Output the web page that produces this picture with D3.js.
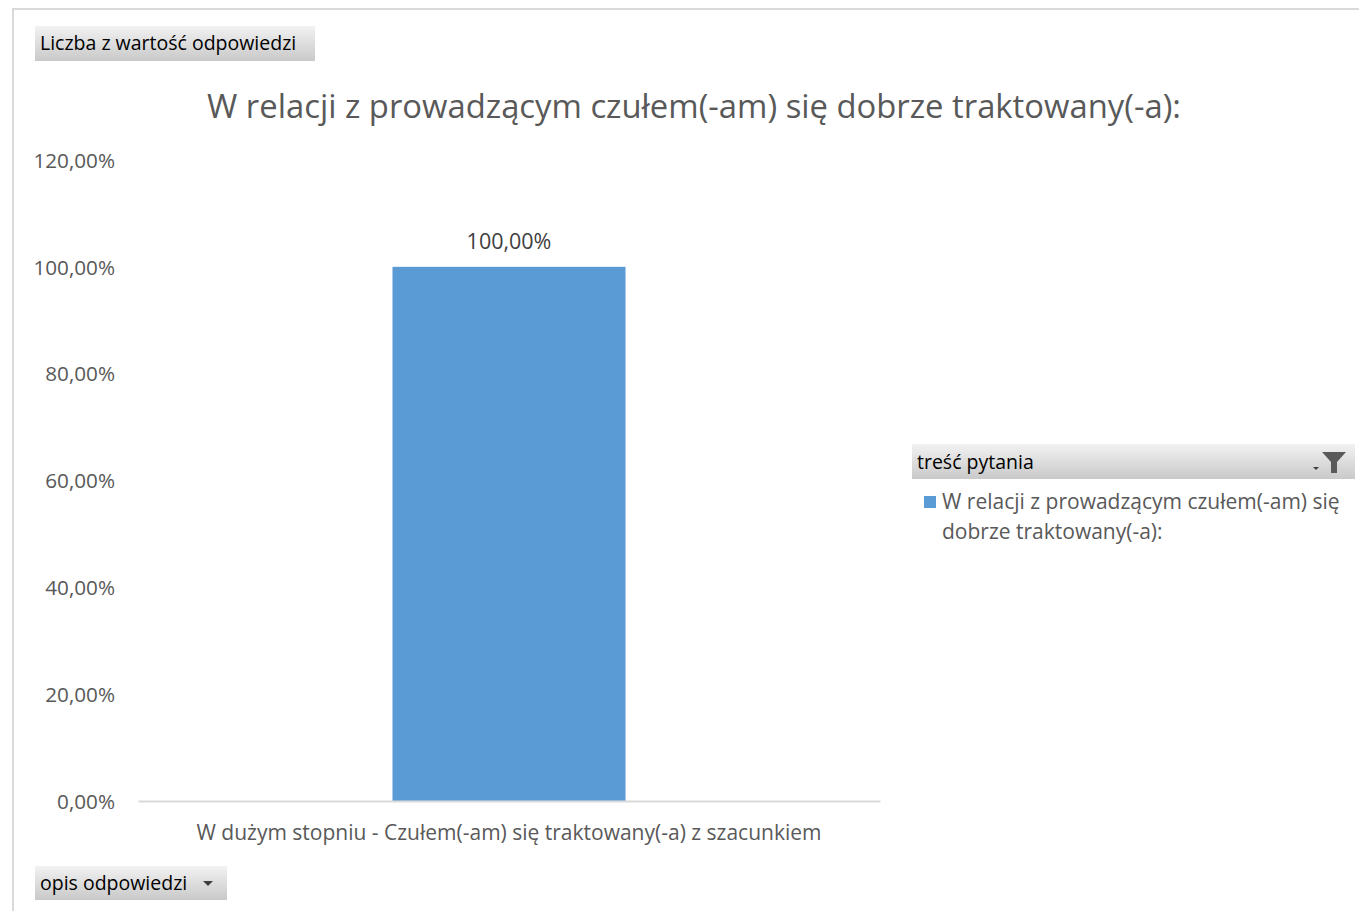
<!DOCTYPE html>
<html>
<head>
<meta charset="utf-8">
<script src="https://cdn.jsdelivr.net/npm/d3@7"></script>
<style>
html,body{margin:0;padding:0;background:#fff;}
svg{display:block;}
text{font-family:"Open Sans","Noto Sans",sans-serif;}
</style>
</head>
<body>
<svg id="chart" width="1359" height="911"></svg>
<script>
const chartTitle = "W relacji z prowadzącym czułem(-am) się dobrze traktowany(-a):";
const categories = ["W dużym stopniu - Czułem(-am) się traktowany(-a) z szacunkiem"];
const seriesName = "W relacji z prowadzącym czułem(-am) się dobrze traktowany(-a):";
const seriesValues = [100];
const yTicks = [0, 20, 40, 60, 80, 100, 120];
const valueFieldLabel = "Liczba z wartość odpowiedzi";
const axisFieldLabel = "opis odpowiedzi";
const legendFieldLabel = "treść pytania";

const svg = d3.select("#chart");
const W = 1359, H = 911;
const fmt = v => d3.format(".2f")(v).replace(".", ",") + "%";

const defs = svg.append("defs");
const grad = defs.append("linearGradient").attr("id","btn").attr("x1",0).attr("y1",0).attr("x2",0).attr("y2",1);
grad.append("stop").attr("offset","0%").attr("stop-color","#f2f2f2");
grad.append("stop").attr("offset","100%").attr("stop-color","#c9c9c9");

// outer frame
svg.append("path").attr("d", `M13,${H} L13,9 L${W},9`).attr("fill","none").attr("stroke","#d9d9d9").attr("stroke-width",2);

// plot
const plot = {left:138, right:880, top:160, bottom:801};
const x = d3.scaleBand().domain(categories).range([plot.left, plot.right]).paddingInner(0.522).paddingOuter(0.522);
const y = d3.scaleLinear().domain([0, 120]).range([plot.bottom, plot.top]);

// y axis
const yAxis = d3.axisLeft(y).tickValues(yTicks).tickFormat(fmt).tickSize(0).tickPadding(23);
const yg = svg.append("g").attr("transform", `translate(${plot.left},0)`).call(yAxis);
yg.select(".domain").remove();
yg.selectAll("text").attr("fill","#595959").style("font-size","20.7px").attr("dy","0.35em");

// bars
svg.append("g").selectAll("rect").data(seriesValues).join("rect")
  .attr("x",(d,i)=>x(categories[i])).attr("width",x.bandwidth())
  .attr("y",d=>y(d)).attr("height",d=>y(0)-y(d)).attr("fill","#5b9bd5");

// x axis
const xAxis = d3.axisBottom(x).tickSize(0).tickPadding(24);
const xg = svg.append("g").attr("transform", `translate(0,${plot.bottom})`).call(xAxis);
xg.select(".domain").attr("stroke","#d9d9d9").attr("stroke-width",2);
xg.selectAll("text").attr("fill","#595959").style("font-size","21px");

// data labels
svg.append("g").selectAll("text").data(seriesValues).join("text")
  .attr("x",(d,i)=>x(categories[i])+x.bandwidth()/2).attr("y",d=>y(d)-18)
  .attr("text-anchor","middle").attr("fill","#404040").style("font-size","21.5px").text(fmt);

// title
svg.append("text").attr("x",694).attr("y",118).attr("text-anchor","middle")
  .attr("fill","#595959").style("font-size","32.8px").text(chartTitle);

// field buttons
function button(x0,y0,w,h,label,arrow){
  const g = svg.append("g");
  g.append("rect").attr("x",x0).attr("y",y0).attr("width",w).attr("height",h).attr("fill","url(#btn)");
  g.append("text").attr("x",x0+5).attr("y",y0+h/2).attr("dy","0.35em").attr("fill","#000").style("font-size","19.5px").text(label);
  if(arrow){
    g.append("path").attr("d",`M${x0+w-24},${y0+h/2-2} l10,0 l-5,5 z`).attr("fill","#404040");
  }
}
button(35,26,280,35,valueFieldLabel,false);
button(35,866,192,34,axisFieldLabel,true);

// legend
const lg = svg.append("g");
lg.append("rect").attr("x",912).attr("y",444).attr("width",443).attr("height",35).attr("fill","url(#btn)");
lg.append("text").attr("x",917).attr("y",462).attr("dy","0.35em").attr("fill","#000").style("font-size","19.5px").text(legendFieldLabel);
// filter icon
lg.append("path").attr("d","M1322,452 L1346,452 L1337,462 L1337,473 L1331,473 L1331,462 Z").attr("fill","#5a5a5a");
lg.append("path").attr("d","M1313,467 l6,0 l-3,3 z").attr("fill","#404040");
lg.append("rect").attr("x",924).attr("y",496).attr("width",12).attr("height",12).attr("fill","#5b9bd5");
const words = ["W relacji z prowadzącym czułem(-am) się", "dobrze traktowany(-a):"];
lg.selectAll("text.li").data(words).join("text").attr("class","li")
  .attr("x",942).attr("y",(d,i)=>502+i*30).attr("dy","0.35em")
  .attr("fill","#595959").style("font-size","21px").text(d=>d);
</script>
</body>
</html>
